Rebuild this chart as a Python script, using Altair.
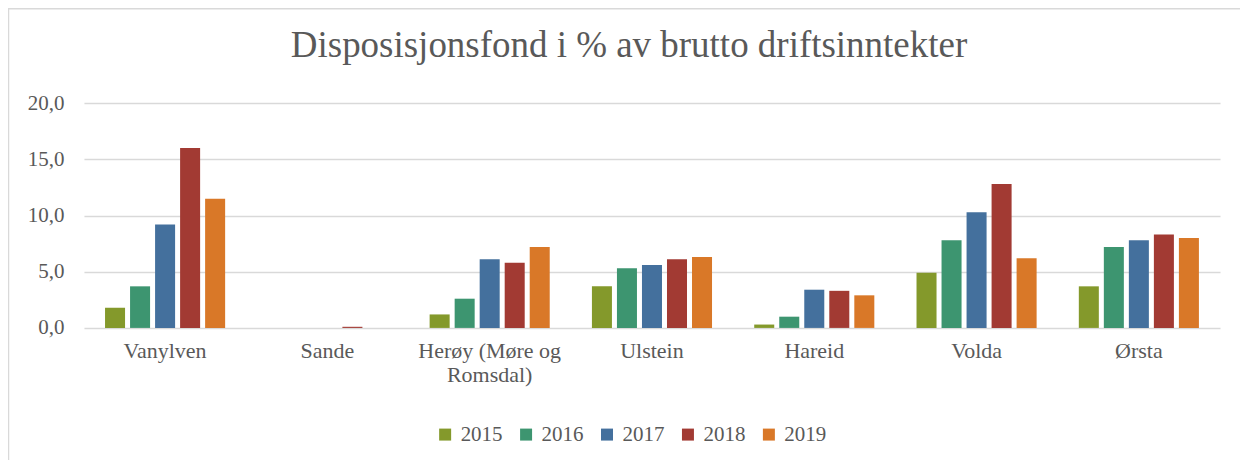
import altair as alt
import pandas as pd

categories = ["Vanylven", "Sande", "Herøy (Møre og Romsdal)", "Ulstein", "Hareid", "Volda", "Ørsta"]
years = ["2015", "2016", "2017", "2018", "2019"]
v2015 = [1.8, 0.0, 1.2, 3.7, 0.3, 4.9, 3.7]
v2016 = [3.7, 0.0, 2.6, 5.3, 1.0, 7.8, 7.2]
v2017 = [9.2, 0.0, 6.1, 5.6, 3.4, 10.3, 7.8]
v2018 = [16.0, 0.1, 5.8, 6.1, 3.3, 12.8, 8.3]
v2019 = [11.5, 0.0, 7.2, 6.3, 2.9, 6.2, 8.0]
colors = ["#84992B", "#3D9570", "#44709D", "#A23A33", "#D97828"]

series = [v2015, v2016, v2017, v2018, v2019]
rows = []
for y, vals in zip(years, series):
    for c, v in zip(categories, vals):
        rows.append({"kommune": c, "år": y, "verdi": v})
df = pd.DataFrame(rows)

FONT = "Liberation Serif, DejaVu Serif, serif"
GREY = "#595959"

bars = alt.Chart(df).mark_bar(strokeWidth=0).encode(
    x=alt.X("kommune:N", sort=categories, title=None,
            scale=alt.Scale(paddingInner=0.26, paddingOuter=0.13),
            axis=alt.Axis(labelAngle=0, labelFont=FONT, labelFontSize=22, labelColor=GREY,
                          labelPadding=13, labelBaseline="top", labelLineHeight=24,
                          domain=False, ticks=False, grid=False, labelLimit=300,
                          labelExpr="datum.label == 'Herøy (Møre og Romsdal)' ? ['Herøy (Møre og', 'Romsdal)'] : datum.label")),
    xOffset=alt.XOffset("år:N", sort=years, scale=alt.Scale(paddingInner=0.2, paddingOuter=0)),
    y=alt.Y("verdi:Q", title=None,
            scale=alt.Scale(domain=[0, 20], nice=False),
            axis=alt.Axis(values=[0, 5, 10, 15, 20], labelFont=FONT, labelFontSize=21, labelColor=GREY,
                          labelPadding=20, domain=False, ticks=False, gridColor="#d9d9d9", gridWidth=1.5,
                          labelExpr="replace(format(datum.value, '.1f'), '.', ',')")),
    color=alt.Color("år:N", sort=years, scale=alt.Scale(domain=years, range=colors),
                    legend=alt.Legend(title=None, orient="none", direction="horizontal",
                                      legendX=351, legendY=321, symbolType="square", symbolSize=144,
                                      symbolStrokeWidth=0, labelFont=FONT, labelFontSize=21,
                                      labelColor=GREY, columnPadding=13, labelOffset=5)),
)

border = alt.Chart(pd.DataFrame({"a": [0]})).mark_rect(
    fill=None, stroke="#d9d9d9", strokeWidth=1.5, clip=False
).encode(
    x=alt.value(-75.5), x2=alt.value(1400), y=alt.value(-94.5), y2=alt.value(600)
)

chart = alt.layer(border, bars).properties(
    width=1137, height=225,
    autosize=alt.AutoSizeParams(type="none"),
    padding={"left": 76, "top": 95, "right": 20, "bottom": 132},
    title=alt.TitleParams("Disposisjonsfond i % av brutto driftsinntekter", font=FONT, fontSize=37,
                          fontWeight="normal", color=GREY, anchor="middle", dx=-23, offset=0, dy=86,
                          frame="group", baseline="alphabetic"),
).configure_view(stroke=None)

chart.save("out.html", embed_options={"renderer": "svg", "actions": False})
